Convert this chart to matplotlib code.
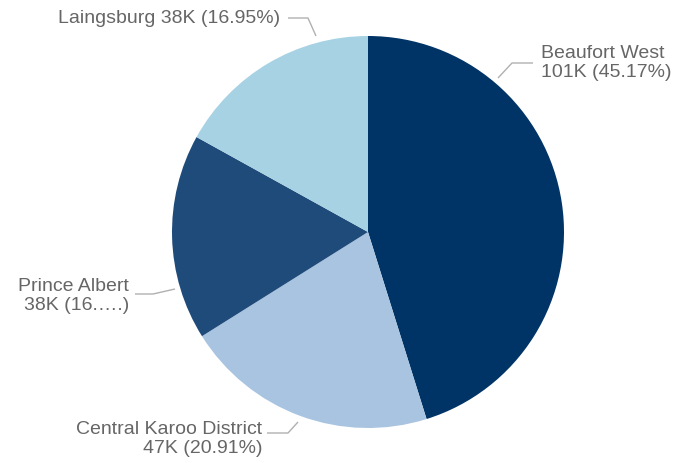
import matplotlib.pyplot as plt

plt.rcParams["font.family"] = ["Liberation Sans", "DejaVu Sans"]

labels = ["Beaufort West", "Central Karoo District", "Prince Albert", "Laingsburg"]
values_k = [101, 47, 38, 38]
percents = [45.17, 20.91, 16.97, 16.95]
label_texts = [
    "Beaufort West\n101K (45.17%)",
    "Central Karoo District\n47K (20.91%)",
    "Prince Albert\n38K (16.\u2026.)",
    "Laingsburg 38K (16.95%)",
]
colors = ["#003366", "#a8c4e0", "#1f4b7b", "#a6d2e3"]

W, H = 673, 463
cx, cy, R = 368, 232, 196


def px(x, y):
    # figure pixel -> data coords (pie radius = 1)
    return (x - cx) / R, (cy - y) / R


fig = plt.figure(figsize=(W / 100, H / 100), dpi=100)
ax = fig.add_axes([0, 0, 1, 1])
ax.pie(percents, colors=colors, startangle=90, counterclock=False, radius=1,
       wedgeprops=dict(linewidth=0))
ax.set_xlim(-cx / R, (W - cx) / R)
ax.set_ylim(-(H - cy) / R, cy / R)
ax.set_aspect("equal")
ax.axis("off")

# leader lines (pixel coords) and label anchors
leaders = [
    [(533, 63), (512, 63), (498, 78)],
    [(267, 433), (288, 433), (298, 422)],
    [(135, 294), (153, 294), (175, 289)],
    [(288, 18), (308, 18), (316, 36)],
]
anchors = [(541, 63, "left"), (262, 439, "right"), (129, 296, "right"), (280, 18, "right")]

for txt, pts, (x, y, ha) in zip(label_texts, leaders, anchors):
    xs, ys = zip(*[px(*p) for p in pts])
    ax.plot(xs, ys, color="#b0b0b0", lw=1, solid_capstyle="butt")
    tx, ty = px(x, y)
    ax.text(tx, ty, txt, ha=ha, va="center", multialignment=ha,
            fontsize=14, color="#666666", linespacing=1.2)

fig.savefig("out.png", dpi=100)
